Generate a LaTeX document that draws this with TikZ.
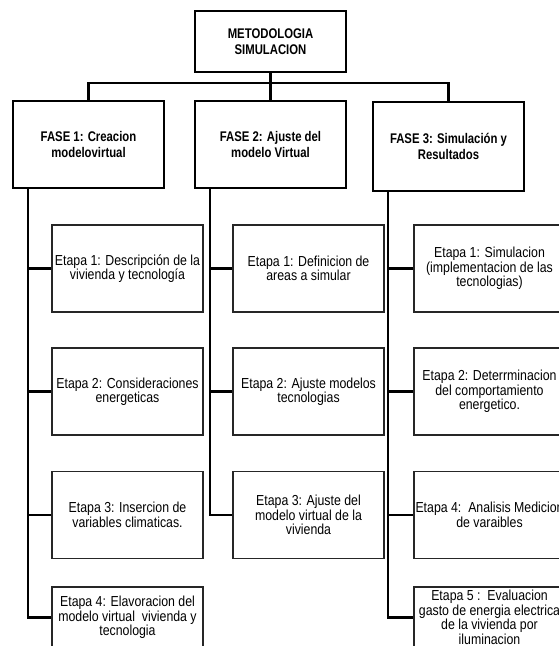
\documentclass[tikz,border=0pt]{standalone}
\usepackage{fontspec}
\setmainfont{Liberation Sans}
\newfontfamily\narrowfont{Liberation Sans}[FakeStretch=0.85]
\newfontfamily\narrowboldfont{Liberation Sans Bold}[FakeStretch=0.81]
\begin{document}
\begin{tikzpicture}[x=1pt,y=-1pt,
  mainbox/.style={draw=black, line width=2.2pt, minimum width=151pt, inner sep=0pt, align=center,
    font={\narrowboldfont\fontsize{14}{15.5}\selectfont}},
  stagebox/.style={draw=black!85, line width=1.2pt, minimum width=151pt, minimum height=87pt, inner sep=0pt, align=center,
    font={\narrowfont\fontsize{14.5}{14.5}\selectfont}},
  conn/.style={draw=black, line width=2.2pt},
]
\useasboundingbox (0,0) rectangle (558,646);

% top and phases
\node[mainbox, minimum height=61pt] (top) at (270.5,41.5) {METODOLOGIA\\SIMULACION};
\node[mainbox, minimum height=87pt] (f1) at (88.5,144.5) {FASE 1: Creacion\\modelovirtual};
\node[mainbox, minimum height=87pt] (f2) at (270.5,144.5) {FASE 2: Ajuste del\\modelo Virtual};
\node[mainbox, minimum height=89pt] (f3) at (448.5,146.5) {FASE 3: Simulación y\\Resultados};

% column 1
\node[stagebox] (e11) at (127.5,268.5) {Etapa 1: Descripción de la\\vivienda y tecnología};
\node[stagebox] (e12) at (127.5,391.5) {Etapa 2: Consideraciones\\energeticas};
\node[stagebox] (e13) at (127.5,515) {Etapa 3: Insercion de\\variables climaticas.};
\node[stagebox, minimum height=61pt] (e14) at (127.5,617.5) {Etapa 4: Elavoracion del\\modelo virtual\ \ vivienda y\\tecnologia};

% column 2
\node[stagebox] (e21) at (308.5,268.5) {Etapa 1: Definicion de\\areas a simular};
\node[stagebox] (e22) at (308.5,391.5) {Etapa 2: Ajuste modelos\\tecnologias};
\node[stagebox] (e23) at (308.5,515) {Etapa 3: Ajuste del\\modelo virtual de la\\vivienda};

% column 3
\node[stagebox] (e31) at (489.5,268.5) {Etapa 1: Simulacion\\(implementacion de las\\tecnologias)};
\node[stagebox] (e32) at (489.5,391.5) {Etapa 2: Deterrminacion\\del comportamiento\\energetico.};
\node[stagebox] (e33) at (489.5,515) {Etapa 4:\ \ Analisis Medicion\\de varaibles};
\node[stagebox, minimum height=61pt] (e34) at (489.5,617.5) {Etapa 5 :\ \ Evaluacion\\gasto de energia electrica\\de la vivienda por\\iluminacion};

% top connectors
\coordinate (hub) at (270.5,83);
\draw[conn] (top.south) -- (f2.north);
\draw[conn] (f1.north) -- (f1.north |- hub) -- (f3.north |- hub) -- (f3.north);

% spines
\coordinate (s1) at (28,188);
\coordinate (s2) at (210,188);
\coordinate (s3) at (388,191);
\draw[conn] (s1) |- (e14.west);
\draw[conn] (s1 |- e11.west) -- (e11.west);
\draw[conn] (s1 |- e12.west) -- (e12.west);
\draw[conn] (s1 |- e13.west) -- (e13.west);

\draw[conn] (s2) |- (e23.west);
\draw[conn] (s2 |- e21.west) -- (e21.west);
\draw[conn] (s2 |- e22.west) -- (e22.west);

\draw[conn] (s3) |- (e34.west);
\draw[conn] (s3 |- e31.west) -- (e31.west);
\draw[conn] (s3 |- e32.west) -- (e32.west);
\draw[conn] (s3 |- e33.west) -- (e33.west);
\end{tikzpicture}
\end{document}
